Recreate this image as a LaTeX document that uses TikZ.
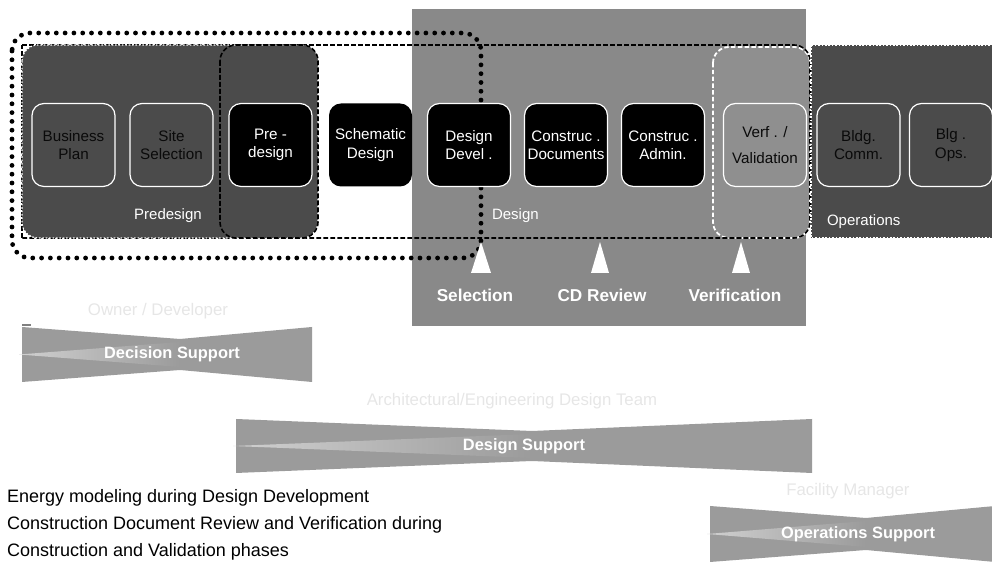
\documentclass[tikz,border=0pt]{standalone}
\usepackage{fontspec}
\setmainfont{Liberation Sans}
\usetikzlibrary{positioning}
\definecolor{MidGray}{HTML}{898989}
\definecolor{DarkGray}{HTML}{4B4B4B}
\definecolor{LightPanel}{HTML}{8F8F8F}
\definecolor{BandGray}{HTML}{9B9B9B}
\definecolor{BeamGray}{HTML}{D0D0D0}
\definecolor{InkGray}{HTML}{0A0A0A}
\definecolor{FaintGray}{HTML}{E6E6E6}

\newcommand{\supportband}[7]{%
  \pgfmathsetmacro{\bandmid}{(#4+#5)/2}
  \fill[BandGray] (#1,#4) -- (#2,#4+12) -- (#3,#4) -- (#3,#5) -- (#2,#5-12) -- (#1,#5) -- cycle;
  \shade[left color=BeamGray, right color=BandGray] (#1-3,\bandmid) -- (#2,#4+15) -- (#2,#5-15) -- cycle;
  \node[bandtext] (#6) at (#2-8,\bandmid) {#7};
}

\begin{document}
\begin{tikzpicture}[x=0.5pt, y=-0.5pt,
  phase/.style={rounded corners=6pt, minimum width=41.5pt, minimum height=41.5pt,
    draw=white, line width=0.6pt, align=center, inner sep=1pt,
    font=\fontsize{7.6}{9.2}\selectfont},
  dimbox/.style={phase, fill=DarkGray, text=InkGray},
  darkbox/.style={phase, fill=black, text=white},
  region/.style={white, font=\fontsize{7.5}{9}\selectfont},
  milestone/.style={white, font=\bfseries\fontsize{8.6}{10}\selectfont},
  bandtext/.style={white, font=\bfseries\fontsize{8.2}{10}\selectfont},
  teamtext/.style={FaintGray, font=\fontsize{8.4}{10}\selectfont},
  blackdash/.style={black, line width=0.8pt, dash pattern=on 2.4pt off 1.1pt},
  whitedot/.style={white, line width=0.6pt, dash pattern=on 0.8pt off 0.9pt},
  bigdots/.style={black, line width=2.4pt, line cap=round, dash pattern=on 0pt off 4.4pt}]
  \useasboundingbox (0,0) rectangle (992,565);
  \clip (0,0) rectangle (992,565);

  \fill[MidGray] (412,9) rectangle (806,326);
  \draw[whitedot, dash pattern=on 2.2pt off 1.2pt, line width=0.9pt, fill=LightPanel, rounded corners=8pt]
    (713,47) rectangle (810,238);
  \draw[blackdash, rounded corners=8pt] (22,45) -- (810,45) -- (810,238) -- (22,238);
  \draw[blackdash] (22,238) -- (22,45);
  \draw[whitedot, fill=DarkGray, rounded corners=8pt] (22,45) rectangle (318,238);
  \draw[whitedot, fill=DarkGray] (811,45) rectangle (1010,238);
  \draw[blackdash, rounded corners=8pt] (220,45) rectangle (318,238);
  \draw[bigdots, rounded corners=9pt] (12,33) rectangle (481,258);

  \node[dimbox] (biz) at (73.5,145) {Business\\Plan};
  \node[dimbox] (site) at (171.5,145) {Site\\Selection};
  \node[darkbox] (pre) at (270.5,145) {Pre -\\design};
  \node[darkbox, draw=none] (schem) at (370.5,145) {Schematic\\Design};
  \node[darkbox] (ddev) at (469,145) {Design\\Devel .};
  \node[darkbox] (cdoc) at (566,145) {Construc .\\Documents};
  \node[darkbox] (cadm) at (663,145) {Construc .\\Admin.};
  \node[phase, fill=LightPanel, text=InkGray] (verf) at (765,145) {Verf . /\\[4pt]Validation};
  \node[dimbox] (comm) at (858.5,145) {Bldg.\\Comm.};
  \node[dimbox] (ops) at (951,145) {Blg .\\Ops.};

  \node[region] (predesign) at (168,216) {Predesign};
  \node[region, anchor=west] (design) at (485,216) {Design};
  \node[region, anchor=west] (operations) at (820,222) {Operations};

  \fill[white] (481,242) -- (491,273) -- (471,273) -- cycle;
  \fill[white] (600,242) -- (609,273) -- (591,273) -- cycle;
  \fill[white] (741,242) -- (750,273) -- (732,273) -- cycle;
  \node[milestone] (selection) at (475,295) {Selection};
  \node[milestone] (cdreview) at (602,295) {CD Review};
  \node[milestone] (verification) at (735,295) {Verification};

  \node[teamtext] (owner) at (158,311) {Owner / Developer};
  \draw[gray, line width=0.6pt] (22,325) -- (31,325);
  \supportband{22}{180}{312}{327}{382}{decision}{Decision Support}
  \node[teamtext] (aeteam) at (512,401) {Architectural/Engineering Design Team};
  \supportband{236}{532}{812}{419}{473}{designsup}{Design Support}
  \node[teamtext] (facility) at (848,491) {Facility Manager};
  \supportband{710}{866}{995}{506}{562}{opssup}{Operations Support}

  \node[anchor=west, align=left, font=\fontsize{9}{13.5}\selectfont] (notes) at (0,525)
    {Energy modeling during Design Development\\
     Construction Document Review and Verification during\\
     Construction and Validation phases};
\end{tikzpicture}
\end{document}
